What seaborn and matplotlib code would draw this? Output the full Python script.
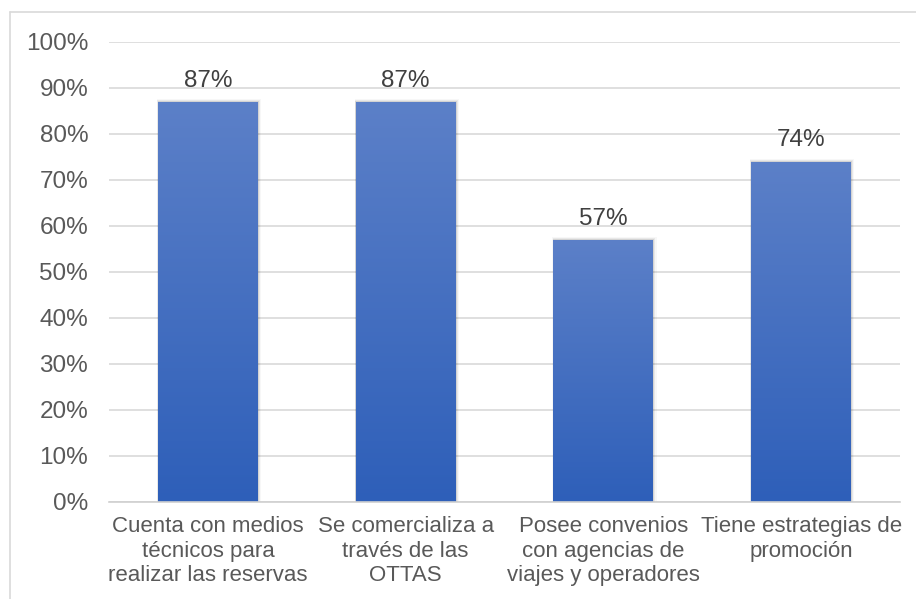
import numpy as np
import pandas as pd
import matplotlib
matplotlib.use("Agg")
import matplotlib.pyplot as plt
import matplotlib.patches as mpatches
from matplotlib.colors import LinearSegmentedColormap
from matplotlib.ticker import FuncFormatter, MultipleLocator
import seaborn as sns

categories = [
    "Cuenta con medios\ntécnicos para\nrealizar las reservas",
    "Se comercializa a\ntravés de las\nOTTAS",
    "Posee convenios\ncon agencias de\nviajes y operadores",
    "Tiene estrategias de\npromoción",
]
values = [0.87, 0.87, 0.57, 0.74]
value_labels = ["87%", "87%", "57%", "74%"]

df = pd.DataFrame({"categoria": categories, "valor": values})

sns.set_theme(style="white")
plt.rcParams["font.family"] = ["Liberation Sans", "DejaVu Sans"]

FS = 17.5
FS_X = 16

fig = plt.figure(figsize=(9.16, 5.99), dpi=100)
ax = fig.add_axes([109 / 916, 97 / 599, 791 / 916, 460 / 599])

sns.barplot(data=df, x="categoria", y="valor", ax=ax, width=0.505,
            color="#4472C4", saturation=1, errorbar=None, zorder=3,
            linewidth=0, edgecolor="none")

# vertical gradient fill and soft shadow for each bar
grad = LinearSegmentedColormap.from_list("blue_grad", ["#2E5FB9", "#5C80C8"])
gimg = np.linspace(0, 1, 256).reshape(-1, 1)
for p in ax.patches:
    x0, y0 = p.get_x(), p.get_y()
    w, h = p.get_width(), p.get_height()
    p.set_linewidth(0)
    p.set_edgecolor("none")
    for k, a in enumerate([0.09, 0.06, 0.03]):
        d = 0.006 * (k + 1)
        sh = mpatches.Rectangle((x0 - d * 0.3, y0), w + d * 1.2, h + 0.002 * (k + 1),
                                facecolor="#000000", alpha=a, edgecolor="none",
                                linewidth=0, zorder=2)
        ax.add_patch(sh)
    im = ax.imshow(gimg, cmap=grad, aspect="auto", origin="lower",
                   extent=[x0, x0 + w, y0, y0 + h], zorder=4)
    im.set_clip_path(p)
    p.set_facecolor("none")

for i, (v, lab) in enumerate(zip(values, value_labels)):
    ax.text(i, v + 0.022, lab, ha="center", va="bottom", fontsize=FS, color="#404040")

ax.set_xlim(-0.5, 3.5)
ax.set_ylim(0, 1.0)
ax.yaxis.set_major_locator(MultipleLocator(0.1))
ax.yaxis.set_major_formatter(FuncFormatter(lambda v, _: f"{v * 100:.0f}%"))
ax.grid(axis="y", color="#D9D9D9", linewidth=1.2, zorder=0)
ax.set_axisbelow(True)
for s in ["top", "right", "left"]:
    ax.spines[s].set_visible(False)
ax.spines["bottom"].set_color("#D0D0D0")
ax.spines["bottom"].set_linewidth(1.2)
ax.spines["bottom"].set_zorder(5)
ax.tick_params(axis="y", length=0, pad=15, labelsize=FS, labelcolor="#595959")
ax.tick_params(axis="x", length=0, pad=10, labelsize=FS_X, labelcolor="#595959")
for t in ax.get_xticklabels():
    t.set_multialignment("center")
    t.set_linespacing(1.23)
ax.set_xlabel("")
ax.set_ylabel("")

# chart area border
fig.add_artist(plt.Line2D([10 / 916, 10 / 916], [0, 1 - 12 / 599],
                          transform=fig.transFigure, color="#D9D9D9", linewidth=1.2))
fig.add_artist(plt.Line2D([10 / 916, 1], [1 - 12 / 599, 1 - 12 / 599],
                          transform=fig.transFigure, color="#D9D9D9", linewidth=1.2))

fig.savefig("out.png", dpi=100, facecolor="white")
